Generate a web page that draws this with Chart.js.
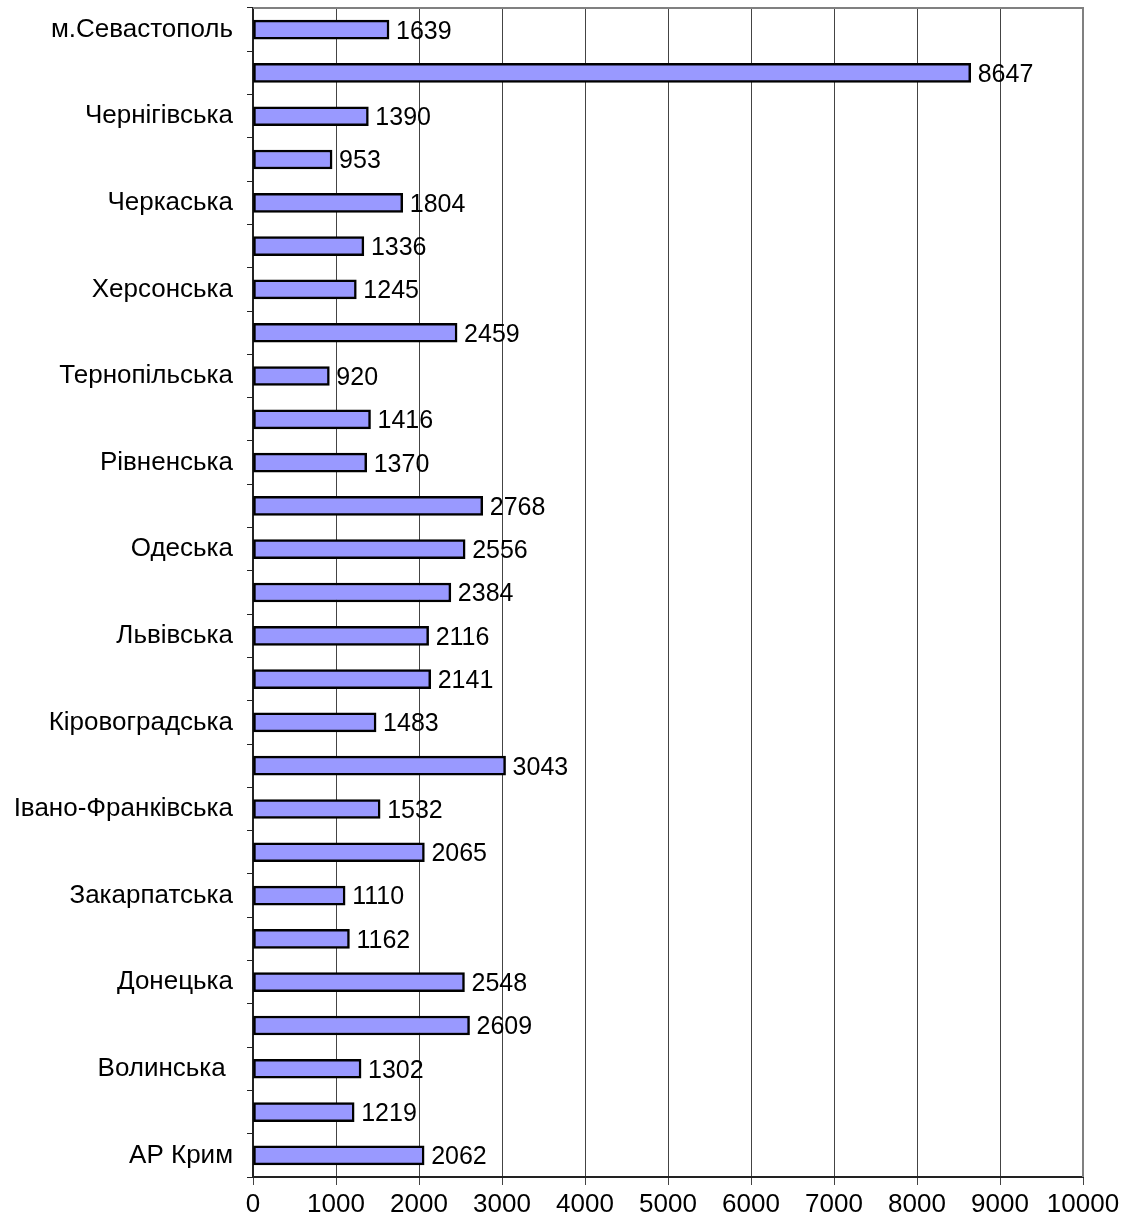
<!DOCTYPE html>
<html>
<head>
<meta charset="utf-8">
<script src="https://cdn.jsdelivr.net/npm/chart.js@4"></script>
<style>
    html, body { margin: 0; padding: 0; background: #fff; }
    #wrap { width: 1127px; height: 1227px; }
</style>
</head>
<body>
<div id="wrap"><canvas id="chart"></canvas></div>
<script>
// Області, зверху вниз
const regions = [
    'м.Севастополь', 'м.Київ', 'Чернігівська', 'Чернівецька', 'Черкаська',
    'Хмельницька', 'Херсонська', 'Харківська', 'Тернопільська', 'Сумська',
    'Рівненська', 'Полтавська', 'Одеська', 'Миколаївська', 'Львівська',
    'Луганська', 'Кіровоградська', 'Київська', 'Івано-Франківська', 'Запорізька',
    'Закарпатська', 'Житомирська', 'Донецька', 'Дніпропетровська', 'Волинська ',
    'Вінницька', 'АР Крим'
];

const values = [
    1639, 8647, 1390, 953, 1804,
    1336, 1245, 2459, 920, 1416,
    1370, 2768, 2556, 2384, 2116,
    2141, 1483, 3043, 1532, 2065,
    1110, 1162, 2548, 2609, 1302,
    1219, 2062
];

const xMin = 0;
const xMax = 10000;
const xStep = 1000;

const FONT = 'Arial, "Liberation Sans", sans-serif';

// підписи значень праворуч від стовпчиків
const valueLabels = {
    id: 'valueLabels',
    afterDatasetsDraw(chart) {
        const ctx = chart.ctx;
        const meta = chart.getDatasetMeta(0);
        ctx.save();
        ctx.font = '25px ' + FONT;
        ctx.fillStyle = '#000';
        ctx.textAlign = 'left';
        ctx.textBaseline = 'middle';
        meta.data.forEach((bar, i) => {
            ctx.fillText(String(values[i]), bar.x + 7, bar.y + 2);
        });
        ctx.restore();
    }
};

// сіра рамка зверху і праворуч
const plotFrame = {
    id: 'plotFrame',
    beforeDatasetsDraw(chart) {
        const { ctx, chartArea: a } = chart;
        ctx.save();
        ctx.strokeStyle = '#808080';
        ctx.lineWidth = 2;
        ctx.beginPath();
        ctx.moveTo(a.left, a.top);
        ctx.lineTo(a.right, a.top);
        ctx.lineTo(a.right, a.bottom);
        ctx.stroke();
        ctx.restore();
    }
};

new Chart(document.getElementById('chart'), {
    type: 'bar',
    data: {
        labels: regions,
        datasets: [{
            data: values,
            backgroundColor: '#9999FF',
            borderColor: '#000',
            borderWidth: 2.5,
            borderSkipped: false,
            barThickness: 19
        }]
    },
    options: {
        indexAxis: 'y',
        responsive: true,
        maintainAspectRatio: false,
        animation: false,
        layout: {
            padding: { top: 8, right: 44, bottom: 0, left: 0 }
        },
        plugins: {
            legend: { display: false },
            tooltip: { enabled: false }
        },
        scales: {
            x: {
                min: xMin,
                max: xMax,
                ticks: {
                    stepSize: xStep,
                    color: '#000',
                    font: { size: 26, family: FONT },
                    padding: 4,
                    maxRotation: 0,
                    autoSkip: false,
                    callback: (value) => String(value)
                },
                grid: {
                    color: '#444',
                    lineWidth: 1,
                    tickLength: 8
                },
                border: { color: '#222', width: 2 },
                afterFit(scale) { scale.height = 50; }
            },
            y: {
                ticks: {
                    color: '#000',
                    font: { size: 26, family: FONT },
                    padding: 14,
                    autoSkip: false,
                    callback: function(value, index) {
                        return index % 2 === 0 ? this.getLabelForValue(value) : '';
                    }
                },
                grid: {
                    offset: true,
                    drawOnChartArea: false,
                    color: '#222',
                    tickLength: 6
                },
                border: { color: '#222', width: 2 },
                afterFit(scale) {
                    scale.width = 253;
                    scale.paddingTop = 0;
                    scale.paddingBottom = 0;
                }
            }
        }
    },
    plugins: [plotFrame, valueLabels]
});
</script>
</body>
</html>
